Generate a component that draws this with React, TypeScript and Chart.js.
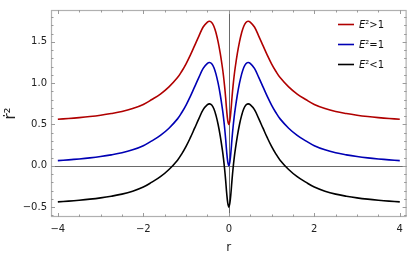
import React, { useEffect, useRef } from "react";
import { Chart, registerables } from "chart.js";

Chart.register(...registerables);

// r values (x axis)
const rValues = [
  -4, -3.75, -3.5, -3.25, -3, -2.75, -2.5, -2.25, -2, -1.8, -1.6, -1.4, -1.2, -1.1, -1, -0.9, -0.8,
  -0.7, -0.6, -0.5, -0.45, -0.4, -0.35, -0.3, -0.25, -0.2, -0.15, -0.125, -0.1, -0.075, -0.05, -0.025,
  0,
  0.025, 0.05, 0.075, 0.1, 0.125, 0.15, 0.2, 0.25, 0.3, 0.35, 0.4, 0.45, 0.5, 0.6, 0.7, 0.8, 0.9, 1,
  1.1, 1.2, 1.4, 1.6, 1.8, 2, 2.25, 2.5, 2.75, 3, 3.25, 3.5, 3.75, 4,
];

// E^2 > 1
const redValues = [
  0.563, 0.572, 0.583, 0.596, 0.612, 0.632, 0.657, 0.693, 0.743, 0.802, 0.868, 0.955, 1.068, 1.145, 1.235, 1.34, 1.455,
  1.57, 1.68, 1.74, 1.75, 1.735, 1.69, 1.61, 1.5, 1.36, 1.19, 1.09, 0.97, 0.83, 0.67, 0.55,
  0.5,
  0.55, 0.67, 0.83, 0.97, 1.09, 1.19, 1.36, 1.5, 1.61, 1.69, 1.735, 1.75, 1.74, 1.68, 1.57, 1.455, 1.34, 1.235,
  1.145, 1.068, 0.955, 0.868, 0.802, 0.743, 0.693, 0.657, 0.632, 0.612, 0.596, 0.583, 0.572, 0.563,
];

// E^2 = 1
const blueValues = [
  0.063, 0.072, 0.083, 0.096, 0.112, 0.132, 0.157, 0.193, 0.243, 0.302, 0.368, 0.455, 0.568, 0.645, 0.735, 0.84, 0.955,
  1.07, 1.18, 1.24, 1.25, 1.235, 1.19, 1.11, 1.0, 0.86, 0.69, 0.59, 0.47, 0.33, 0.17, 0.05,
  0,
  0.05, 0.17, 0.33, 0.47, 0.59, 0.69, 0.86, 1.0, 1.11, 1.19, 1.235, 1.25, 1.24, 1.18, 1.07, 0.955, 0.84, 0.735,
  0.645, 0.568, 0.455, 0.368, 0.302, 0.243, 0.193, 0.157, 0.132, 0.112, 0.096, 0.083, 0.072, 0.063,
];

// E^2 < 1
const blackValues = [
  -0.437, -0.428, -0.417, -0.404, -0.388, -0.368, -0.343, -0.307, -0.257, -0.198, -0.132, -0.045, 0.068, 0.145, 0.235, 0.34, 0.455,
  0.57, 0.68, 0.74, 0.75, 0.735, 0.69, 0.61, 0.5, 0.36, 0.19, 0.09, -0.03, -0.17, -0.33, -0.45,
  -0.5,
  -0.45, -0.33, -0.17, -0.03, 0.09, 0.19, 0.36, 0.5, 0.61, 0.69, 0.735, 0.75, 0.74, 0.68, 0.57, 0.455, 0.34, 0.235,
  0.145, 0.068, -0.045, -0.132, -0.198, -0.257, -0.307, -0.343, -0.368, -0.388, -0.404, -0.417, -0.428, -0.437,
];

const seriesLabels = ["E²>1", "E²=1", "E²<1"];
const seriesColors = ["#b00000", "#0000b4", "#000000"];

const xTickValues = [-4, -2, 0, 2, 4];
const xTickLabels = ["−4", "−2", "0", "2", "4"];
const yTickValues = [-0.5, 0, 0.5, 1, 1.5];
const yTickLabels = ["−0.5", "0.0", "0.5", "1.0", "1.5"];

const xTitle = "r";
const yTitle = "ṙ²";

const FONT = "'DejaVu Sans', sans-serif";

const framePlugin = {
  id: "mmaFrame",
  beforeDatasetsDraw(chart: any) {
    const { ctx, chartArea: a, scales } = chart;
    const x = scales.x;
    const y = scales.y;
    ctx.save();
    ctx.strokeStyle = "#6a6a6a";
    ctx.lineWidth = 1;
    const y0 = Math.round(y.getPixelForValue(0)) + 0.5;
    const x0 = Math.round(x.getPixelForValue(0)) + 0.5;
    ctx.beginPath();
    ctx.moveTo(a.left, y0);
    ctx.lineTo(a.right, y0);
    ctx.moveTo(x0, a.top);
    ctx.lineTo(x0, a.bottom);
    ctx.stroke();
    ctx.restore();
  },
  afterDraw(chart: any) {
    const { ctx, chartArea: a, scales } = chart;
    const x = scales.x;
    const y = scales.y;
    ctx.save();
    // frame
    ctx.strokeStyle = "#b0b0b0";
    ctx.lineWidth = 1.2;
    ctx.strokeRect(a.left + 0.5, a.top + 0.5, a.right - a.left - 1, a.bottom - a.top - 1);
    // ticks
    ctx.strokeStyle = "#9a9a9a";
    ctx.lineWidth = 1;
    ctx.beginPath();
    for (let i = -8; i <= 8; i++) {
      const v = i * 0.5;
      const px = Math.round(x.getPixelForValue(v)) + 0.5;
      const len = i % 4 === 0 ? 4 : 2.5;
      ctx.moveTo(px, a.bottom);
      ctx.lineTo(px, a.bottom - len);
      ctx.moveTo(px, a.top);
      ctx.lineTo(px, a.top + len);
    }
    for (let i = -6; i <= 18; i++) {
      const v = i * 0.1;
      const py = Math.round(y.getPixelForValue(v)) + 0.5;
      if (py < a.top || py > a.bottom) continue;
      const len = i % 5 === 0 ? 4 : 2.5;
      ctx.moveTo(a.left, py);
      ctx.lineTo(a.left + len, py);
      ctx.moveTo(a.right, py);
      ctx.lineTo(a.right - len, py);
    }
    ctx.stroke();

    // legend
    const datasets = chart.data.datasets;
    for (let i = 0; i < datasets.length; i++) {
      const ly = 24 + i * 20;
      ctx.strokeStyle = datasets[i].borderColor;
      ctx.lineWidth = 1.6;
      ctx.beginPath();
      ctx.moveTo(338, ly + 0.5);
      ctx.lineTo(354, ly + 0.5);
      ctx.stroke();
      const label: string = datasets[i].label;
      ctx.fillStyle = "#111";
      ctx.textBaseline = "middle";
      ctx.textAlign = "left";
      ctx.font = `italic 10px ${FONT}`;
      const first = label.slice(0, 1);
      ctx.fillText(first, 359, ly + 1);
      const w = ctx.measureText(first).width;
      ctx.font = `10px ${FONT}`;
      ctx.fillText(label.slice(1), 359 + w, ly + 1);
    }
    ctx.restore();
  },
};

export default function App() {
  const canvasRef = useRef<HTMLCanvasElement | null>(null);

  useEffect(() => {
    document.body.style.margin = "0";
    const canvas = canvasRef.current;
    if (!canvas) return;
    const series = [redValues, blueValues, blackValues];
    const chart = new Chart(canvas, {
      type: "line",
      data: {
        datasets: series.map((vals, i) => ({
          label: seriesLabels[i],
          data: rValues.map((r, j) => ({ x: r, y: vals[j] })),
          borderColor: seriesColors[i],
          backgroundColor: seriesColors[i],
          borderWidth: 1.6,
          pointRadius: 0,
          tension: 0.4,
          fill: false,
        })),
      },
      options: {
        animation: false,
        responsive: false,
        devicePixelRatio: 1,
        layout: { padding: { left: 0, right: 2, top: 0, bottom: 0 } },
        plugins: {
          legend: { display: false },
          tooltip: { enabled: false },
        },
        scales: {
          x: {
            type: "linear",
            min: -4.16,
            max: 4.16,
            grid: { display: false, drawTicks: false },
            border: { display: false },
            afterFit: (s: any) => {
              s.height = 38;
            },
            afterBuildTicks: (s: any) => {
              s.ticks = xTickValues.map((v) => ({ value: v }));
            },
            ticks: {
              autoSkip: false,
              maxRotation: 0,
              padding: 6,
              color: "#222",
              font: { family: FONT, size: 10 },
              callback: (v: any) => {
                const idx = xTickValues.indexOf(Number(v));
                return idx >= 0 ? xTickLabels[idx] : "";
              },
            },
            title: {
              display: true,
              text: xTitle,
              color: "#222",
              font: { family: FONT, size: 12 },
              padding: { top: 0, bottom: 0 },
            },
          },
          y: {
            type: "linear",
            min: -0.62,
            max: 1.886,
            grid: { display: false, drawTicks: false },
            border: { display: false },
            afterFit: (s: any) => {
              s.width = 51;
            },
            afterBuildTicks: (s: any) => {
              s.ticks = yTickValues.map((v) => ({ value: v }));
            },
            ticks: {
              autoSkip: false,
              padding: 4,
              color: "#222",
              font: { family: FONT, size: 10 },
              callback: (v: any) => {
                const idx = yTickValues.indexOf(Number(v));
                return idx >= 0 ? yTickLabels[idx] : "";
              },
            },
            title: {
              display: true,
              text: yTitle,
              color: "#222",
              font: { family: FONT, size: 15 },
              padding: { top: 2, bottom: 0 },
            },
          },
        },
      },
      plugins: [framePlugin],
    });
    return () => chart.destroy();
  }, []);

  return (
    <div style={{ width: 409, height: 255 }}>
      <canvas ref={canvasRef} width={409} height={255} style={{ display: "block" }} />
    </div>
  );
}
